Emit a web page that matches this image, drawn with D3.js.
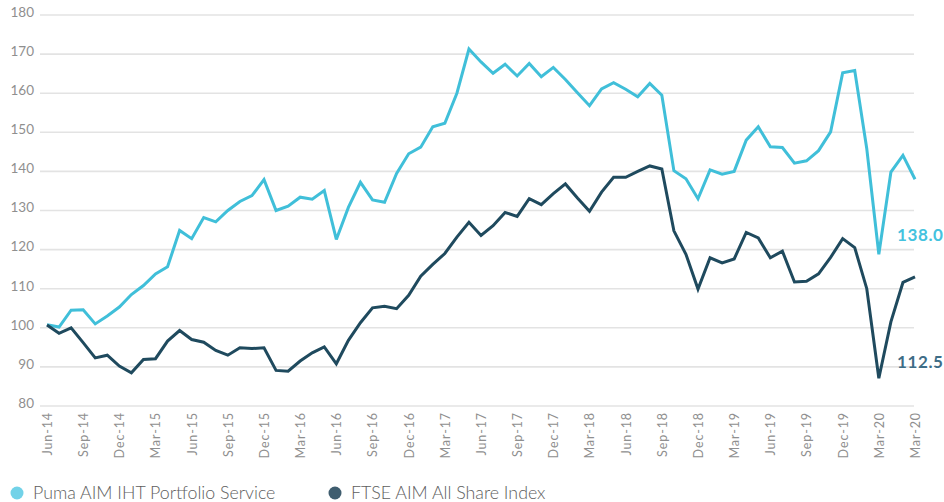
<!DOCTYPE html>
<html>
<head>
<meta charset="utf-8">
<script src="https://cdn.jsdelivr.net/npm/d3@7"></script>
<style>
  body { margin: 0; background: #fff; }
  svg { display: block; font-family: Lato, "Open Sans", sans-serif; }
</style>
</head>
<body>
<div id="chart"></div>
<script>
// monthly index values, Jun-14 .. (73 points), rebased to 100
const pumaValues = [
  100.8, 100.2, 104.5, 104.6, 101.0, 103.0, 105.3, 108.5, 110.8, 113.8,
  115.6, 124.9, 122.8, 128.2, 127.1, 130.0, 132.3, 133.8, 137.9, 130.0,
  131.1, 133.4, 132.9, 135.1, 122.6, 130.8, 137.2, 132.7, 132.1, 139.5,
  144.5, 146.2, 151.4, 152.3, 160.0, 171.3, 168.0, 165.1, 167.4, 164.4,
  167.6, 164.2, 166.6, 163.5, 160.1, 156.8, 161.1, 162.7, 161.0, 159.1,
  162.5, 159.5, 140.2, 138.1, 133.0, 140.4, 139.3, 140.0, 148.0, 151.4,
  146.3, 146.1, 142.1, 142.7, 145.3, 150.1, 165.2, 165.8, 145.8, 118.8,
  139.8, 144.1, 138.0
];
const ftseValues = [
  100.7, 98.6, 100.0, 96.2, 92.3, 93.0, 90.2, 88.5, 91.9, 92.1,
  96.6, 99.3, 97.0, 96.3, 94.2, 93.0, 94.9, 94.7, 94.9, 89.1,
  88.9, 91.5, 93.6, 95.1, 90.8, 96.8, 101.3, 105.1, 105.5, 104.9,
  108.3, 113.2, 116.2, 119.0, 123.2, 127.0, 123.6, 126.1, 129.5, 128.5,
  133.0, 131.5, 134.3, 136.8, 133.2, 129.8, 134.7, 138.5, 138.5, 140.0,
  141.4, 140.6, 124.8, 118.8, 109.9, 117.9, 116.6, 117.6, 124.4, 123.0,
  117.9, 119.6, 111.7, 111.9, 113.8, 118.0, 122.8, 120.5, 110.0, 87.1,
  101.5, 111.6, 113.0
];
// x tick labels every 3 months (the last one is labelled as in the source)
const tickLabels = [
  "Jun-14", "Sep-14", "Dec-14", "Mar-15", "Jun-15", "Sep-15", "Dec-15", "Mar-16",
  "Jun-16", "Sep-16", "Dec-16", "Mar-17", "Jun-17", "Sep-17", "Dec-17", "Mar-18",
  "Jun-18", "Sep-18", "Dec-18", "Mar-19", "Jun-19", "Sep-19", "Dec-19", "Mar-20", "Mar-20"
];
const yTicks = [80, 90, 100, 110, 120, 130, 140, 150, 160, 170, 180];
const seriesNames = ["Puma AIM IHT Portfolio Service", "FTSE AIM All Share Index"];
const endLabels = ["138.0", "112.5"];

const cfg = {
  width: 944, height: 502,
  plot: { left: 40, right: 914, top: 15, bottom: 406 },
  colors: ["#40bfd9", "#1f4a5e"],
  labelColors: ["#44c2de", "#3e6d86"],
  legendColors: ["#72d2e8", "#3f5d6f"],
};

const svg = d3.select("#chart")
  .append("svg")
  .attr("width", cfg.width)
  .attr("height", cfg.height);

const x = d3.scaleLinear()
  .domain([0, pumaValues.length - 1])
  .range([47, 915]);

const y = d3.scaleLinear()
  .domain([80, 180])
  .range([cfg.plot.bottom, cfg.plot.top]);

// gridlines
svg.append("g")
  .attr("class", "grid")
  .selectAll("line")
  .data(yTicks)
  .join("line")
    .attr("x1", cfg.plot.left)
    .attr("x2", cfg.plot.right)
    .attr("y1", d => y(d))
    .attr("y2", d => y(d))
    .attr("stroke", "#e3e3e3")
    .attr("stroke-width", 1.6);

// y axis labels
const yAxis = svg.append("g")
  .attr("transform", `translate(${cfg.plot.left - 6},0)`)
  .call(d3.axisLeft(y).tickValues(yTicks).tickSize(0).tickPadding(0));
yAxis.select(".domain").remove();
yAxis.selectAll("text")
  .attr("fill", "#8f8f8f")
  .style("font-size", "13.5px")
  .style("font-family", "Lato, sans-serif")
  .attr("dy", "0.1em");

// x axis labels (rotated)
const xAxis = svg.append("g")
  .attr("transform", `translate(0,${cfg.plot.bottom + 6})`)
  .call(d3.axisBottom(x)
    .tickValues(d3.range(0, tickLabels.length).map(i => i * 3))
    .tickFormat((d, i) => tickLabels[i])
    .tickSize(0).tickPadding(0));
xAxis.select(".domain").remove();
xAxis.selectAll("text")
  .attr("fill", "#8f8f8f")
  .style("font-size", "12.5px")
  .style("font-family", "Lato, sans-serif")
  .style("letter-spacing", "0.9px")
  .attr("text-anchor", "end")
  .attr("transform", "rotate(-90)")
  .attr("x", 0)
  .attr("y", 0)
  .attr("dx", 0)
  .attr("dy", "0.35em");

// lines
const line = d3.line()
  .x((d, i) => x(i))
  .y(d => y(d));

const series = [pumaValues, ftseValues];
svg.append("g")
  .attr("class", "lines")
  .selectAll("path")
  .data(series)
  .join("path")
    .attr("d", d => line(d))
    .attr("fill", "none")
    .attr("stroke", (d, i) => cfg.colors[i])
    .attr("stroke-width", 3)
    .attr("stroke-linejoin", "miter")
    .attr("stroke-miterlimit", 3);

// end value labels
const endY = [235, 362];
svg.append("g")
  .selectAll("text")
  .data(endLabels)
  .join("text")
    .attr("x", 897)
    .attr("y", (d, i) => endY[i])
    .attr("dy", "0.35em")
    .attr("fill", (d, i) => cfg.labelColors[i])
    .style("font-size", "17px")
    .style("font-weight", "bold")
    .style("letter-spacing", "0.6px")
    .text(d => d);

// legend
const legendX = [17, 335];
const legend = svg.append("g")
  .selectAll("g")
  .data(seriesNames)
  .join("g")
    .attr("transform", (d, i) => `translate(${legendX[i]},493)`);
legend.append("circle")
  .attr("r", 6.5)
  .attr("fill", (d, i) => cfg.legendColors[i]);
legend.append("text")
  .attr("x", 16)
  .attr("dy", "0.35em")
  .attr("fill", "#5e5e5e")
  .style("font-size", "17.8px")
  .style("font-weight", 300)
  .text(d => d);
</script>
</body>
</html>
